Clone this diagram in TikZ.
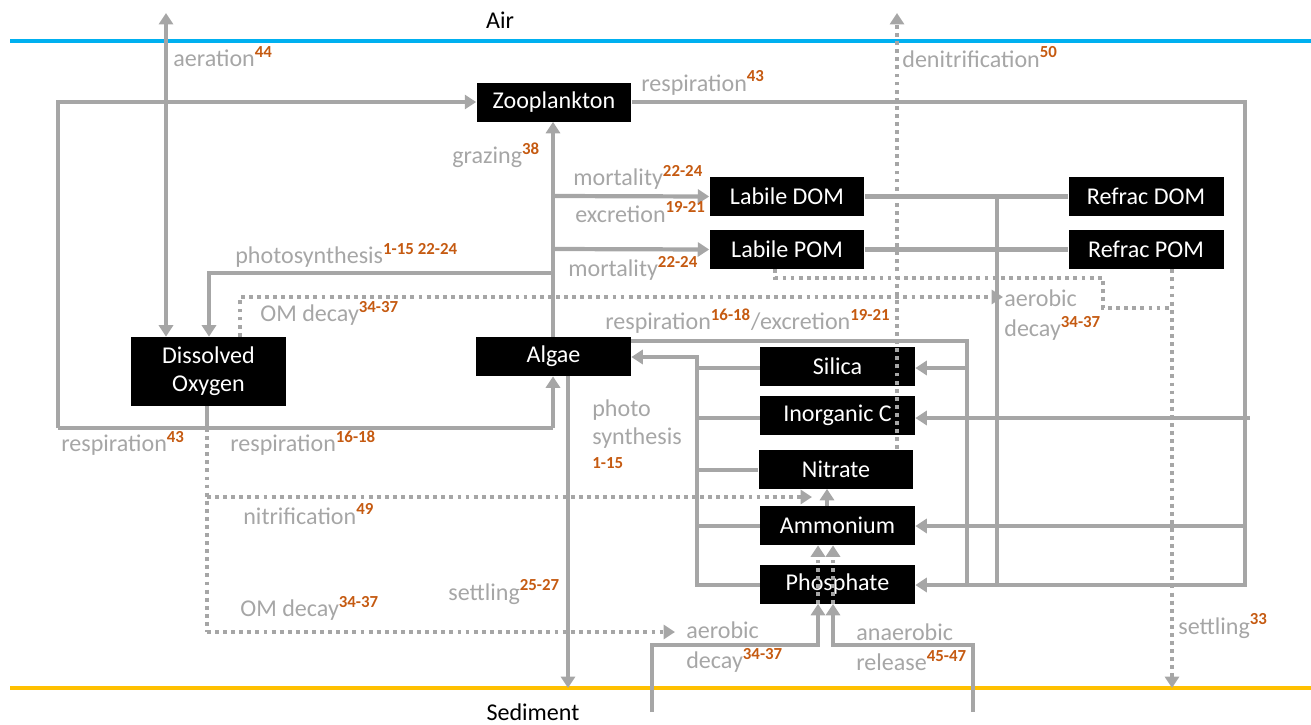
\documentclass[tikz,border=0pt]{standalone}
\usepackage{fontspec}
\setmainfont{Carlito}
\usetikzlibrary{arrows.meta}
\definecolor{lg}{HTML}{A6A6A6}
\definecolor{refc}{HTML}{C55A11}
\definecolor{airc}{HTML}{00B0F0}
\definecolor{sedc}{HTML}{FFC000}
\newcommand{\rf}[1]{\textsuperscript{\color{refc}\bfseries #1}}
\tikzset{
  box/.style={fill=black, text=white, minimum width=3.1cm, minimum height=0.78cm, inner sep=0pt, font=\fontsize{13.7}{16}\selectfont},
  flow/.style={draw=lg, line width=2.4pt},
  arr/.style={flow, -{Triangle[length=6.5pt,width=8pt]}},
  dotl/.style={draw=lg, line width=2.2pt, dash pattern=on 2.2pt off 2.4pt},
  darr/.style={dotl, -{Triangle[length=6.5pt,width=8pt]}},
  lbl/.style={text=lg, anchor=west, inner sep=0pt, font=\fontsize{13.7}{17}\selectfont, align=left},
  blk/.style={text=black, inner sep=0pt, font=\fontsize{13.7}{17}\selectfont}
}
\begin{document}
\begin{tikzpicture}[x=0.02cm,y=-0.02cm]
\useasboundingbox (0,0) rectangle (1311,724);
% boundaries
\coordinate (airL) at (10,41); \coordinate (airR) at (1311,41);
\coordinate (sedL) at (10,688); \coordinate (sedR) at (1311,688);
\draw[airc, line width=2.8pt] (airL) -- (airR);
\draw[sedc, line width=2.8pt] (sedL) -- (sedR);
\node[blk] (air) at (500,20) {Air};
\node[blk] (sed) at (533,712) {Sediment};

% nodes
\node[box] (zoo) at (554,102) {Zooplankton};
\node[box] (ldom) at (787,196.5) {Labile DOM};
\node[box] (lpom) at (787,249.5) {Labile POM};
\node[box] (rdom) at (1146,196) {Refrac DOM};
\node[box] (rpom) at (1146,249.5) {Refrac POM};
\node[box, minimum height=1.38cm, align=center] (do) at (208.5,371.5) {Dissolved\\Oxygen};
\node[box] (alg) at (553.5,356.5) {Algae};
\node[box] (sil) at (837.5,366.5) {Silica};
\node[box] (inc) at (837.5,415.5) {Inorganic C};
\node[box] (nit) at (836,469) {Nitrate};
\node[box] (amm) at (837.5,525.5) {Ammonium};
\node[box] (pho) at (837.5,584) {Phosphate};

% coordinates
\coordinate (aerTop) at (166,13);
\coordinate (r1) at (207,428);
\coordinate (r0) at (58,428);
\coordinate (r2) at (553,428);
\coordinate (z0) at (58,102);
\coordinate (gDOM) at (553,196);
\coordinate (gPOM) at (553,249);
\coordinate (gPS) at (553,273);
\coordinate (psC) at (209,273);
\coordinate (setA) at (568,688);
\coordinate (zr1) at (1245,102);
\coordinate (zr2) at (1245,585);
\coordinate (zIC) at (1250,418);
\coordinate (zAM) at (1245,526);
\coordinate (ar1) at (967,341);
\coordinate (ar2) at (967,585);
\coordinate (arS) at (967,368);
\coordinate (dd1) at (997,196);
\coordinate (dd2) at (997,587);
\coordinate (bus0) at (697,357);
\coordinate (bus1) at (697,585);
\coordinate (sL0) at (652,712); \coordinate (sL1) at (652,645); \coordinate (sL2) at (818,645);
\coordinate (sR0) at (973,712); \coordinate (sR1) at (973,645); \coordinate (sR2) at (833,645);
\coordinate (den) at (897,13);
\coordinate (om0) at (240,297);
\coordinate (omT) at (1003,297);
\coordinate (lp1) at (775,278); \coordinate (lp2) at (1103,278); \coordinate (lp3) at (1103,308); \coordinate (lp4) at (1172,308);
\coordinate (rpS) at (1172,688);
\coordinate (nf0) at (207,497);
\coordinate (nfT) at (812,497);
\coordinate (om2) at (207,632);
\coordinate (om2T) at (675,632);

% solid flows
\draw[flow, {Triangle[length=6.5pt,width=8pt]}-{Triangle[length=6.5pt,width=8pt]}] (aerTop) -- (aerTop |- do.north);
\draw[flow] (do.south -| r1) -- (r1);
\draw[flow] (r0) -- (r2);
\draw[arr] (r0) -- (z0) -- (zoo.west);
\draw[arr] (r2) -- (r2 |- alg.south);
\draw[arr] (alg.north -| r2) -- (zoo.south -| r2);
\draw[arr] (alg.south -| setA) -- (setA);
\draw[arr] (gDOM) -- (ldom.west);
\draw[arr] (gPOM) -- (lpom.west);
\draw[arr] (gPS) -- (psC) -- (psC |- do.north);
\draw[arr] (zoo.east) -- (zr1) -- (zr2) -- (zr2 -| pho.east);
\draw[arr] (zIC) -- (zIC -| inc.east);
\draw[arr] (zAM) -- (zAM -| amm.east);
\draw[flow] (ar1 -| alg.east) -- (ar1) -- (ar2);
\draw[arr] (arS) -- (arS -| sil.east);
\draw[flow] (ldom.east) -- (ldom.east -| rdom.west);
\draw[flow] (lpom.east) -- (lpom.east -| rpom.west);
\draw[flow] (dd1) -- (dd2);
\draw[flow] (sil.west |- 0,368) -- (697,368);
\draw[flow] (inc.west |- 0,418) -- (697,418);
\draw[flow] (nit.west |- 0,470) -- (697,470);
\draw[flow] (amm.west |- 0,526) -- (697,526);
\draw[arr] (pho.west |- bus1) -- (bus1) -- (bus0) -- (bus0 -| alg.east);
\draw[arr] (amm.north -| 827,0) -- (nit.south -| 827,0);
\draw[arr] (sL0) -- (sL1) -- (sL2) -- (sL2 |- pho.south);
\draw[arr] (sR0) -- (sR1) -- (sR2) -- (sR2 |- pho.south);
\draw[darr] (sL2 |- pho.south) -- (sL2 |- amm.south);
\draw[darr] (sR2 |- pho.south) -- (sR2 |- amm.south);

% dotted flows
\draw[darr] (nit.north -| den) -- (den);
\draw[darr] (om0 |- do.north) -- (om0) -- (omT);
\draw[dotl] (lpom.south -| lp1) -- (lp1) -- (lp2) -- (lp3) -- (lp4);
\draw[darr] (rpom.south -| rpS) -- (rpS);
\draw[dotl] (r1) -- (om2);
\draw[darr] (om2) -- (om2T);
\draw[darr] (nf0) -- (nfT);

% labels
\node[lbl] (l1) at (173,57) {aeration\rf{44}};
\node[lbl] (l2) at (641,83) {respiration\rf{43}};
\node[lbl] (l3) at (902,57) {denitrification\rf{50}};
\node[lbl] (l4) at (452,155) {grazing\rf{38}};
\node[lbl] (l5) at (573,177) {mortality\rf{22-24}};
\node[lbl] (l6) at (575,212) {excretion\rf{19-21}};
\node[lbl] (l7) at (568,268) {mortality\rf{22-24}};
\node[lbl] (l8) at (235,255) {photosynthesis\rf{1-15 22-24}};
\node[lbl] (l9) at (260,313) {OM decay\rf{34-37}};
\node[lbl] (l10) at (605,321) {respiration\rf{16-18}/excretion\rf{19-21}};
\node[lbl] (l11) at (1004,315) {aerobic\\decay\rf{34-37}};
\node[lbl] (l12) at (61,443) {respiration\rf{43}};
\node[lbl] (l13) at (230,443) {respiration\rf{16-18}};
\node[lbl] (l14a) at (592,410) {photo};
\node[lbl] (l14b) at (592,438) {synthesis};
\node[lbl, text=refc, font=\fontsize{9.6}{11}\selectfont\bfseries] (l14c) at (592,463) {1-15};
\node[lbl] (l15) at (243,514) {nitrification\rf{49}};
\node[lbl] (l16) at (240,608) {OM decay\rf{34-37}};
\node[lbl] (l17) at (448,592) {settling\rf{25-27}};
\node[lbl] (l18) at (686,647) {aerobic\\decay\rf{34-37}};
\node[lbl] (l19) at (856,647) {anaerobic\\release\rf{45-47}};
\node[lbl] (l20) at (1178,626) {settling\rf{33}};
\end{tikzpicture}
\end{document}
